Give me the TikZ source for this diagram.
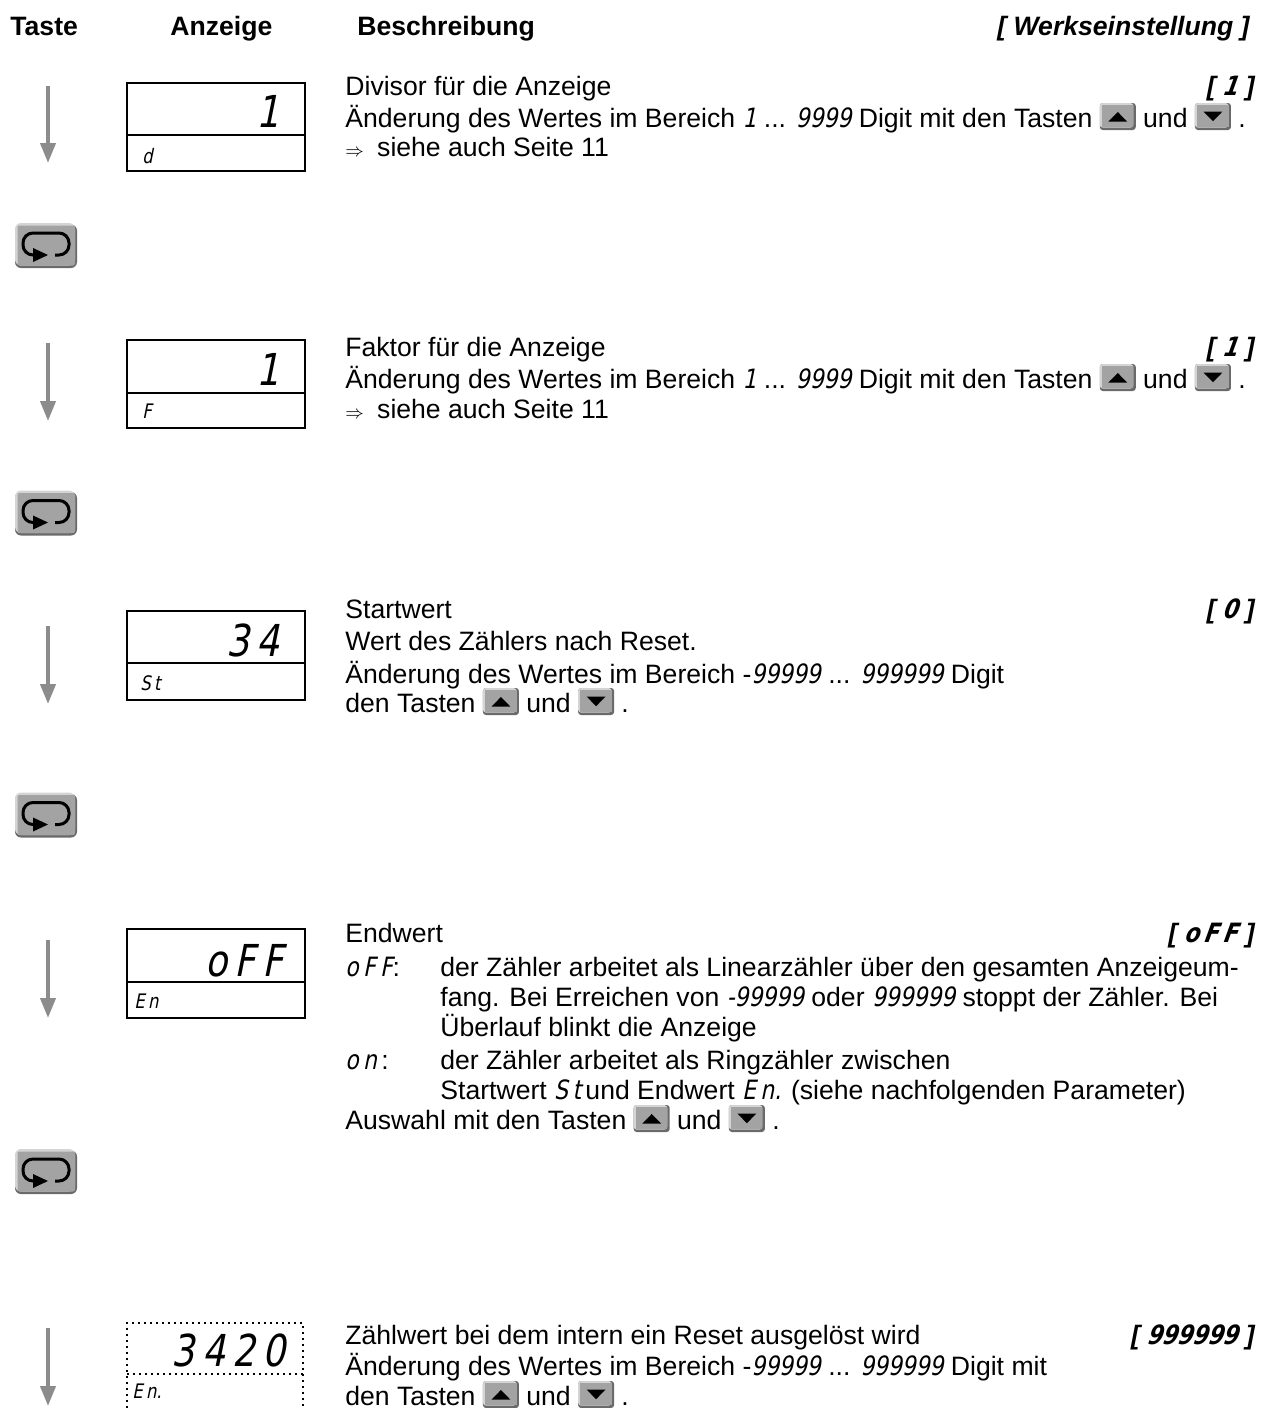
\documentclass[tikz,border=0pt]{standalone}
\usepackage{fontspec}
\setmainfont{Liberation Sans}
\newfontfamily\segfont[FakeSlant=0.2,FakeStretch=0.82]{DejaVu Sans}
\usetikzlibrary{arrows.meta,positioning}

\definecolor{keygray}{HTML}{A3A3A3}
\definecolor{keylight}{HTML}{D4D4D4}
\definecolor{keydark}{HTML}{6A6A6A}
\definecolor{arrowgray}{HTML}{8C8C8C}

\newcommand{\seg}[1]{{\segfont #1}}
\newcommand{\keyup}{\tikz[baseline=1.5pt,x=1pt,y=1pt]{%
	\fill[keydark,rounded corners=1.5pt] (0,0) rectangle (18,13.5);
	\fill[keylight,rounded corners=1.5pt] (0,1.2) rectangle (16.8,13.5);
	\fill[keygray] (1.1,1.3) rectangle (16.8,12.4);
	\fill[black] (4.3,4.2) -- (13.7,4.2) -- (9,9) -- cycle;}}
\newcommand{\keydown}{\tikz[baseline=1.5pt,x=1pt,y=1pt]{%
	\fill[keydark,rounded corners=1.5pt] (0,0) rectangle (18,13.5);
	\fill[keylight,rounded corners=1.5pt] (0,1.2) rectangle (16.8,13.5);
	\fill[keygray] (1.1,1.3) rectangle (16.8,12.4);
	\fill[black] (4.3,9.2) -- (13.7,9.2) -- (9,4.4) -- cycle;}}

\tikzset{
	txt/.style={anchor=base west, inner sep=0pt, font=\fontsize{13.3pt}{15pt}\selectfont},
	head/.style={txt, font=\fontsize{13.3pt}{15pt}\selectfont\bfseries},
	preset/.style={anchor=base east, inner sep=0pt, font=\fontsize{13.3pt}{15pt}\selectfont\bfseries\itshape},
	bigdigits/.style={anchor=base east, inner sep=0pt, font=\fontsize{22pt}{22pt}\segfont},
	smalldigits/.style={anchor=base west, inner sep=0pt, font=\fontsize{10pt}{10pt}\segfont},
	display/.style={line width=1pt},
	downarrow/.style={arrowgray, line width=2pt, -{Triangle[width=7.5pt,length=10pt]}},
	loopkey/.pic={
		\fill[keydark,rounded corners=3pt] (-31,-21) rectangle (31,22.5);
		\fill[keylight,rounded corners=3pt] (-31,-22.5) rectangle (29,20);
		\fill[keygray,rounded corners=1pt] (-28.5,-20) rectangle (29,20);
		\draw[black, line width=1.5pt, rounded corners=5pt]
			(9,9.5) -- (23,9.5) -- (23,-12.5) -- (-23,-12.5) -- (-23,9.5) -- (-8,9.5);
		\fill[black] (2,9.5) -- (-13,2.5) -- (-13,16.5) -- cycle;
	}
}

\begin{document}
\begin{tikzpicture}[x=0.5pt,y=-0.5pt]
	\useasboundingbox (0,0) rectangle (1268,1408);

	% column heads
	\node[head] (hTaste) at (10,35) {Taste};
	\node[head] (hAnzeige) at (170,35) {Anzeige};
	\node[head] (hBeschr) at (357,35) {Beschreibung};
	\node[preset] (hWerk) at (1250,35) {[ Werkseinstellung ]};

	% key column
	\foreach \top/\bot [count=\i] in {86/163, 343/421, 626/704, 940/1018, 1328/1406}{
		\coordinate (at\i) at (48,\top);
		\coordinate (ab\i) at (48,\bot);
		\draw[downarrow] (at\i) -- (ab\i);
	}
	\foreach \y [count=\i] in {245.5, 513, 815, 1171.5}
		\pic (loop\i) at (46,\y) {loopkey};

	% displays
	\draw[display] (127,83) rectangle (305,171) (127,135) -- (305,135);
	\node[bigdigits] (v1) at (280,127) {1};
	\node[smalldigits] (l1) at (142,163) {d};

	\draw[display] (127,340) rectangle (305,428) (127,393) -- (305,393);
	\node[bigdigits] (v2) at (280,385) {1};
	\node[smalldigits] (l2) at (142,418) {F};

	\draw[display] (127,611) rectangle (305,700) (127,663) -- (305,663);
	\node[bigdigits] (v3) at (280,656) {3\,4};
	\node[smalldigits] (l3) at (140,690) {S\,t};

	\draw[display] (127,929) rectangle (305,1018) (127,982) -- (305,982);
	\node[bigdigits] (v4) at (284,976) {o\,F\,F};
	\node[smalldigits] (l4) at (134,1008) {E\,n};

	\draw[dotted, line width=1pt] (127,1408) -- (127,1323) -- (303,1323) -- (303,1408)
		(127,1374) -- (303,1374);
	\node[bigdigits] (v5) at (286,1366) {3\,4\,2\,0};
	\node[smalldigits] (l5) at (132,1398) {E\,n.};

	% descriptions
	\node[txt] (d1) at (345,95) {Divisor für die Anzeige};
	\node[txt] (d1b) at (345,127) {Änderung des Wertes im Bereich \seg{1} ... \seg{9999} Digit mit den Tasten \keyup{} und \keydown{} .};
	\node[txt] (d1c) at (345,156) {{\small$\Rightarrow$}\enspace siehe auch Seite 11};
	\node[preset] (p1) at (1255,95) {[ \seg{1} ]};

	\node[txt] (d2) at (345,356) {Faktor für die Anzeige};
	\node[txt] (d2b) at (345,388) {Änderung des Wertes im Bereich \seg{1} ... \seg{9999} Digit mit den Tasten \keyup{} und \keydown{} .};
	\node[txt] (d2c) at (345,418) {{\small$\Rightarrow$}\enspace siehe auch Seite 11};
	\node[preset] (p2) at (1255,356) {[ \seg{1} ]};

	\node[txt] (d3) at (345,618) {Startwert};
	\node[txt] (d3b) at (345,650) {Wert des Zählers nach Reset.};
	\node[txt] (d3c) at (345,683) {Änderung des Wertes im Bereich -\seg{99999} ... \seg{999999} Digit};
	\node[txt] (d3d) at (345,712) {den Tasten \keyup{} und \keydown{} .};
	\node[preset] (p3) at (1255,618) {[ \seg{0} ]};

	\node[txt] (d4) at (345,942) {Endwert};
	\node[txt] (d4off) at (345,976) {\seg{o\,F\,F}:};
	\node[txt] (d4b) at (440,976) {der Zähler arbeitet als Linearzähler über den gesamten Anzeigeum-};
	\node[txt] (d4c) at (440,1006) {fang. Bei Erreichen von \seg{-99999} oder \seg{999999} stoppt der Zähler. Bei};
	\node[txt] (d4d) at (440,1036) {Überlauf blinkt die Anzeige};
	\node[txt] (d4on) at (345,1069) {\seg{o\,n}\,:};
	\node[txt] (d4e) at (440,1069) {der Zähler arbeitet als Ringzähler zwischen};
	\node[txt] (d4f) at (440,1099) {Startwert \seg{S\,t}\,und Endwert \seg{E\,n.} (siehe nachfolgenden Parameter)};
	\node[txt] (d4g) at (345,1129) {Auswahl mit den Tasten \keyup{} und \keydown{} .};
	\node[preset] (p4) at (1255,942) {[ \seg{o\,F\,F} ]};

	\node[txt] (d5) at (345,1344) {Zählwert bei dem intern ein Reset ausgelöst wird};
	\node[txt] (d5b) at (345,1375) {Änderung des Wertes im Bereich -\seg{99999} ... \seg{999999} Digit mit};
	\node[txt] (d5c) at (345,1405) {den Tasten \keyup{} und \keydown{} .};
	\node[preset] (p5) at (1255,1344) {[ \seg{999999} ]};
\end{tikzpicture}
\end{document}
